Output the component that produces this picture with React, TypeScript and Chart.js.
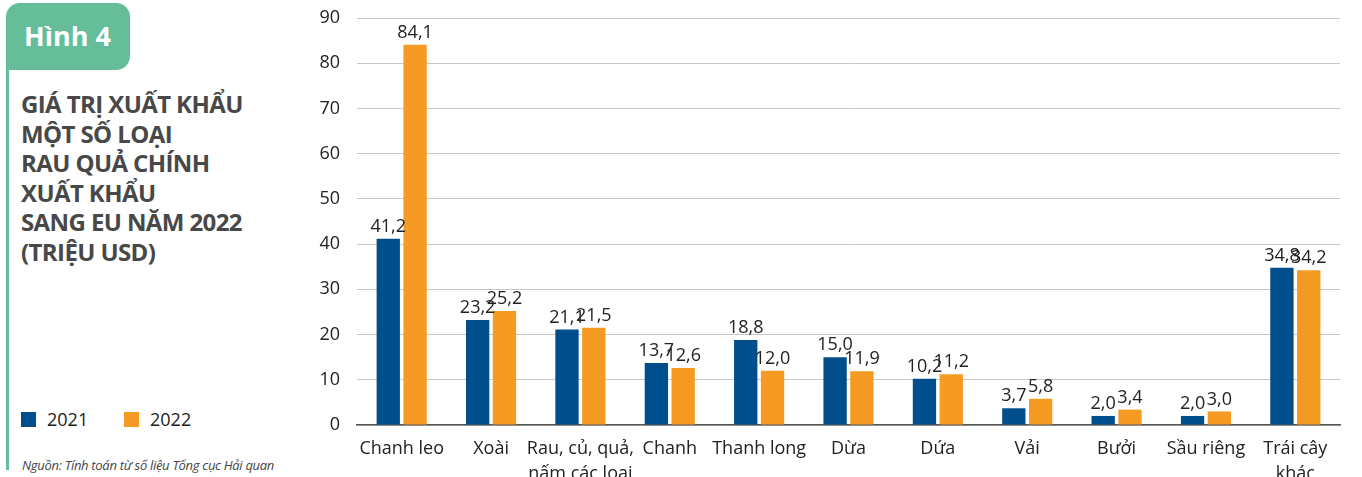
import React, { useEffect, useRef } from "react";
import { Chart, registerables } from "chart.js";

Chart.register(...registerables);

const categories: (string | string[])[] = [
  "Chanh leo",
  "Xoài",
  ["Rau, củ, quả,", "nấm các loại"],
  "Chanh",
  "Thanh long",
  "Dừa",
  "Dứa",
  "Vải",
  "Bưởi",
  "Sầu riêng",
  ["Trái cây", "khác"],
];
const values2021 = [41.2, 23.2, 21.1, 13.7, 18.8, 15.0, 10.2, 3.7, 2.0, 2.0, 34.8];
const values2022 = [84.1, 25.2, 21.5, 12.6, 12.0, 11.9, 11.2, 5.8, 3.4, 3.0, 34.2];
const yTicks = [0, 10, 20, 30, 40, 50, 60, 70, 80, 90];

const BLUE = "#004f8c";
const ORANGE = "#f59a22";
const FONT = "'Open Sans', sans-serif";

const valueLabels = {
  id: "valueLabels",
  afterDatasetsDraw(chart: any) {
    const ctx = chart.ctx;
    ctx.save();
    ctx.font = `18px ${FONT}`;
    ctx.fillStyle = "#222";
    ctx.textAlign = "center";
    ctx.textBaseline = "bottom";
    chart.data.datasets.forEach((ds: any, i: number) => {
      const meta = chart.getDatasetMeta(i);
      meta.data.forEach((el: any, j: number) => {
        const v = ds.data[j] as number;
        ctx.fillText(v.toFixed(1).replace(".", ","), el.x, el.y - 3);
      });
    });
    ctx.restore();
  },
};

export default function App() {
  const ref = useRef<HTMLCanvasElement | null>(null);

  useEffect(() => {
    document.body.style.margin = "0";
    const c = ref.current!;
    const chart = new Chart(c, {
      type: "bar",
      data: {
        labels: categories,
        datasets: [
          { label: "2021", data: values2021, backgroundColor: BLUE, categoryPercentage: 0.6, barPercentage: 0.87 },
          { label: "2022", data: values2022, backgroundColor: ORANGE, categoryPercentage: 0.6, barPercentage: 0.87 },
        ],
      },
      options: {
        animation: false,
        responsive: false,
        maintainAspectRatio: false,
        layout: { padding: { top: 18, right: 22, left: 0, bottom: 0 } },
        plugins: { legend: { display: false }, tooltip: { enabled: false } },
        scales: {
          x: {
            grid: { display: false, drawTicks: false },
            border: { color: "#555", width: 1.5 },
            ticks: { color: "#222", font: { family: FONT, size: 18, lineHeight: 1.42 }, padding: 11, maxRotation: 0, autoSkip: false },
            afterFit(scale: any) { scale.height = 52; scale.paddingLeft = 0; scale.paddingRight = 0; },
          },
          y: {
            min: 0,
            max: 90,
            afterBuildTicks(scale: any) { scale.ticks = yTicks.map((v) => ({ value: v })); },
            grid: { color: "#c8c8c8", lineWidth: 1, drawTicks: false },
            border: { display: false },
            ticks: { color: "#222", font: { family: FONT, size: 18 }, padding: 17 },
            afterFit(scale: any) { scale.width = 57; scale.paddingTop = 0; scale.paddingBottom = 0; },
          },
        },
      },
      plugins: [valueLabels],
    });
    return () => chart.destroy();
  }, []);

  return (
    <div style={{ position: "fixed", left: 0, top: 0, width: 1362, height: 477, background: "#fff", overflow: "hidden", fontFamily: FONT }}>
      <div style={{ position: "absolute", left: 6, top: 70, width: 3, height: 400, background: "#66bd99" }} />
      <div style={{ position: "absolute", left: 6, top: 3, width: 124, height: 67, background: "#66bd99", borderRadius: "14px 14px 14px 0" }} />
      <div style={{ position: "absolute", left: 24, top: 18, color: "#fff", fontWeight: 700, fontSize: 27, lineHeight: "36px" }}>Hình 4</div>
      <div style={{ position: "absolute", left: 21, top: 89, color: "#484848", fontWeight: 700, fontSize: 24, lineHeight: "29.5px", letterSpacing: -0.6, whiteSpace: "pre" }}>
        {"GIÁ TRỊ XUẤT KHẨU\nMỘT SỐ LOẠI\nRAU QUẢ CHÍNH\nXUẤT KHẨU\nSANG EU NĂM 2022\n(TRIỆU USD)"}
      </div>
      <div style={{ position: "absolute", left: 21, top: 412, width: 15, height: 15, background: BLUE }} />
      <div style={{ position: "absolute", left: 47, top: 407, fontSize: 18, lineHeight: "24px", color: "#222" }}>2021</div>
      <div style={{ position: "absolute", left: 124, top: 412, width: 15, height: 15, background: ORANGE }} />
      <div style={{ position: "absolute", left: 150, top: 407, fontSize: 18, lineHeight: "24px", color: "#222" }}>2022</div>
      <div style={{ position: "absolute", left: 22, top: 456, fontSize: 13, fontStyle: "italic", lineHeight: "18px", color: "#444", letterSpacing: -0.3, whiteSpace: "nowrap" }}>
        Nguồn: Tính toán từ số liệu Tổng cục Hải quan
      </div>
      <canvas ref={ref} width={1062} height={477} style={{ position: "absolute", left: 300, top: 0, width: 1062, height: 477 }} />
    </div>
  );
}
